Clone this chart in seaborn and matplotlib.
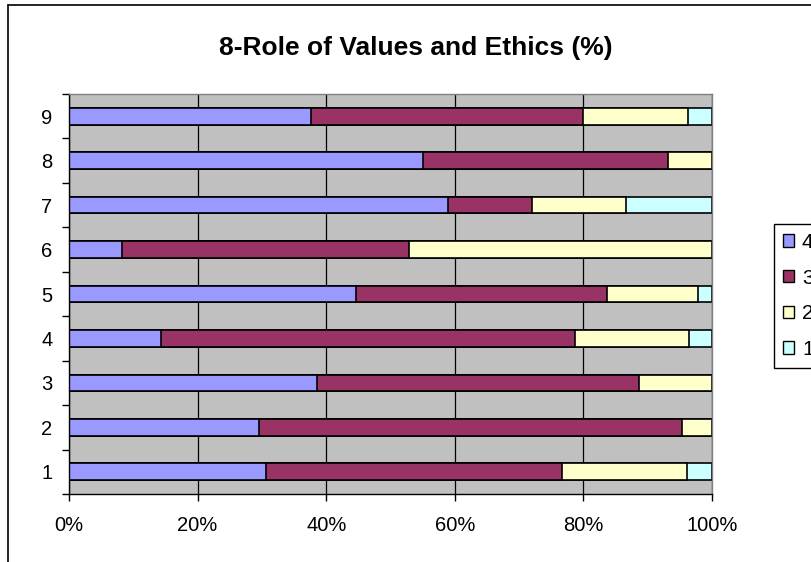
import matplotlib
matplotlib.use("Agg")
import numpy as np
import pandas as pd
import matplotlib.pyplot as plt
import seaborn as sns
from matplotlib.patches import Patch
from matplotlib.lines import Line2D
from matplotlib.ticker import FixedLocator, FuncFormatter

# values (percent of each row)
categories = ['1', '2', '3', '4', '5', '6', '7', '8', '9']
s4 = [30.6, 29.5, 38.6, 14.3, 44.7, 8.2, 58.9, 55.1, 37.7]
s3 = [46.1, 65.9, 50.0, 64.4, 39.0, 44.6, 13.1, 38.0, 42.3]
s2 = [19.4, 4.6, 11.4, 17.8, 14.2, 47.2, 14.6, 6.9, 16.2]
s1 = [3.9, 0.0, 0.0, 3.5, 2.1, 0.0, 13.4, 0.0, 3.8]
series_names = ['4', '3', '2', '1']
colors = ['#9999FF', '#993366', '#FFFFCC', '#CCFFFF']

df = pd.DataFrame({'cat': categories, '4': s4, '3': s3, '2': s2, '1': s1})

sns.set_style("white")
plt.rcParams['font.family'] = ['Liberation Sans', 'DejaVu Sans']
plt.rcParams['text.color'] = 'black'
plt.rcParams['xtick.color'] = 'black'
plt.rcParams['ytick.color'] = 'black'

fig = plt.figure(figsize=(8.12, 5.62), dpi=100)
ax = fig.add_axes([69 / 812, 68 / 562, 643 / 812, 400 / 562])
ax.set_facecolor('#C0C0C0')

order = categories[::-1]
# stacked bars: draw cumulative totals from the widest down
cum = df[series_names].cumsum(axis=1)
for name, col in reversed(list(zip(series_names, colors))):
    sns.barplot(data=df.assign(val=cum[name]), x='val', y='cat', order=order,
                orient='h', color=col, saturation=1, width=0.376,
                edgecolor='black', linewidth=1.2, ax=ax)

ax.set_xlim(0, 100)
ax.set_ylim(8.5, -0.5)
ax.set_xlabel('')
ax.set_ylabel('')
ax.set_xticks([0, 20, 40, 60, 80, 100])
ax.xaxis.set_major_formatter(FuncFormatter(lambda v, p: f'{int(v)}%'))
ax.xaxis.grid(True, color='black', linewidth=0.9)
ax.set_axisbelow(True)

ax.yaxis.set_minor_locator(FixedLocator(np.arange(-0.5, 9, 1)))
ax.tick_params(axis='y', which='major', length=0, pad=12, labelsize=14.5)
ax.tick_params(axis='y', which='minor', length=5, width=1, color='black', direction='out', left=True)
ax.tick_params(axis='x', which='major', length=5, width=1, color='black', direction='out',
               bottom=True, pad=11, labelsize=14.5)

for side in ['top', 'right']:
    ax.spines[side].set_color('#808080')
for side in ['left', 'bottom']:
    ax.spines[side].set_color('black')
for sp in ax.spines.values():
    sp.set_linewidth(1)

fig.text(416 / 812, 1 - 47.5 / 562, '8-Role of Values and Ethics (%)',
         ha='center', va='center', fontsize=19, fontweight='bold')

handles = [Patch(facecolor=c, edgecolor='black', linewidth=1) for c in colors]
leg = fig.legend(handles, series_names, loc='upper left',
                 bbox_to_anchor=(774 / 812, 1 - 224 / 562), borderaxespad=0, fontsize=15,
                 handlelength=0.53, handleheight=0.53, handletextpad=0.38,
                 labelspacing=0.8, borderpad=0.43, frameon=True, fancybox=False,
                 framealpha=1, edgecolor='black')
leg.get_frame().set_linewidth(1)

# outer chart border (cut off at right and bottom like the reference)
fig.add_artist(Line2D([8 / 812, 8 / 812], [0, 1 - 5 / 562], transform=fig.transFigure,
                      color='black', linewidth=1.2))
fig.add_artist(Line2D([8 / 812, 1], [1 - 5 / 562, 1 - 5 / 562], transform=fig.transFigure,
                      color='black', linewidth=1.2))

fig.savefig('out.png', dpi=100)
